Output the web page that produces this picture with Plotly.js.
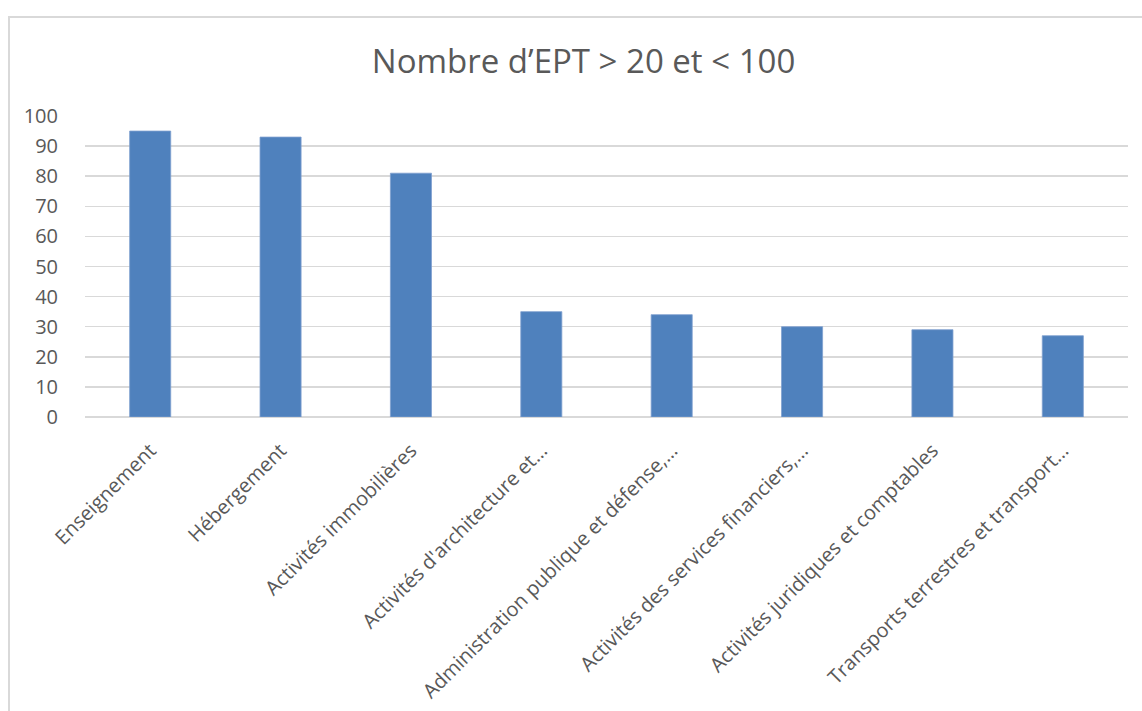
<!DOCTYPE html>
<html>
<head>
<meta charset="utf-8">
<script src="https://cdn.plot.ly/plotly-3.0.1.min.js"></script>
<style>
  html, body { margin: 0; padding: 0; background: #ffffff; overflow: hidden; }
  #frame { position: absolute; left: 8px; top: 16px; width: 1300px; height: 900px;
           border: 2px solid #d9d9d9; box-sizing: border-box; }
  #chart { position: absolute; left: 0; top: 0; width: 1142px; height: 711px; }
</style>
</head>
<body>
<div id="frame"></div>
<div id="chart"></div>
<script>
const chartTitle = "Nombre d\u2019EPT > 20 et < 100";
const categories = [
  "Enseignement",
  "Hébergement",
  "Activités immobilières",
  "Activités d'architecture et…",
  "Administration publique et défense,…",
  "Activités des services financiers,…",
  "Activités juridiques et comptables",
  "Transports terrestres et transport…"
];
const values = [95, 93, 81, 35, 34, 30, 29, 27];
const yTicks = [0, 10, 20, 30, 40, 50, 60, 70, 80, 90, 100];

const trace = {
  type: "bar",
  x: categories,
  y: values,
  marker: { color: "#4f81bd", line: { color: "#7f9fcf", width: 0.8 } },
  hoverinfo: "x+y"
};

const layout = {
  width: 1142,
  height: 711,
  paper_bgcolor: "rgba(0,0,0,0)",
  plot_bgcolor: "rgba(0,0,0,0)",
  margin: { l: 85, r: 14, t: 116, b: 294, pad: 0 },
  bargap: 0.685,
  showlegend: false,
  title: {
    text: chartTitle,
    font: { family: "Open Sans", size: 33, color: "#595959" },
    x: 0.511, xanchor: "center",
    y: 0.913, yanchor: "middle", xref: "container", yref: "container"
  },
  xaxis: {
    type: "category",
    tickangle: -45,
    tickfont: { family: "Open Sans", size: 20, color: "#595959" },
    showgrid: false,
    zeroline: false,
    showline: false,
    ticks: "outside", ticklen: 13, tickcolor: "rgba(0,0,0,0)"
  },
  yaxis: {
    range: [0, 100],
    tickvals: yTicks,
    ticktext: yTicks.map(String),
    tickfont: { family: "Open Sans", size: 20, color: "#595959" },
    showgrid: true,
    gridcolor: "#d9d9d9",
    gridwidth: 1.5,
    zeroline: true,
    zerolinecolor: "#d9d9d9",
    zerolinewidth: 1.5,
    showline: false,
    ticks: "outside", ticklen: 22, tickcolor: "rgba(0,0,0,0)"
  }
};

Plotly.newPlot("chart", [trace], layout, { displayModeBar: false, staticPlot: true });
</script>
</body>
</html>
